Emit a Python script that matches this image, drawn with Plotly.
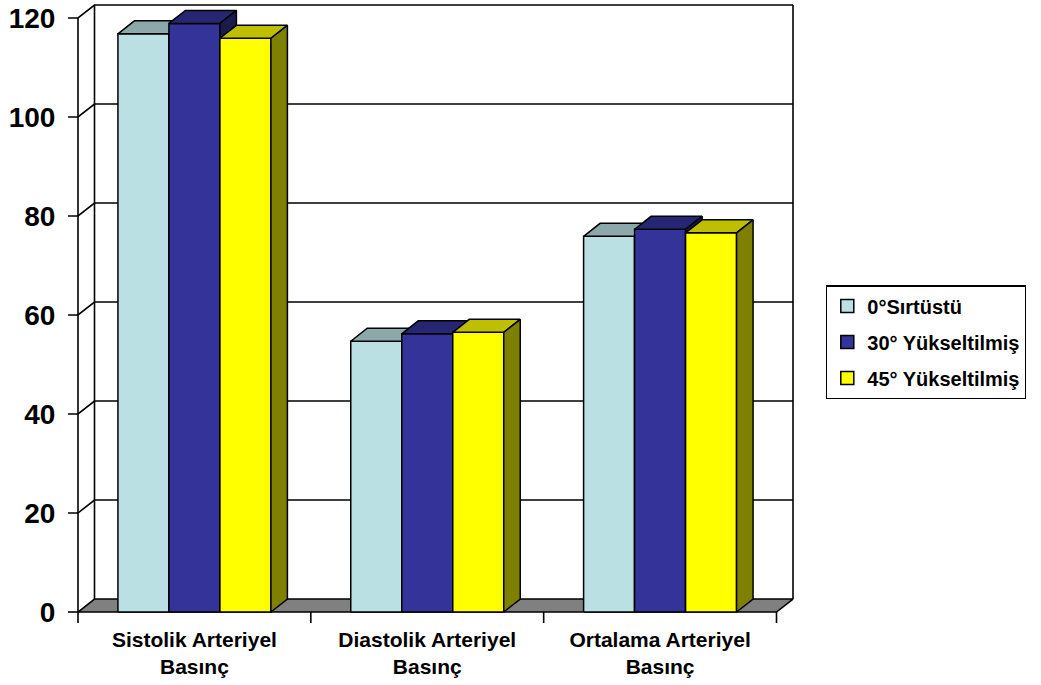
import plotly.graph_objects as go

# ---------------- data ----------------
categories = ["Sistolik Arteriyel<br>Basınç", "Diastolik Arteriyel<br>Basınç", "Ortalama Arteriyel<br>Basınç"]
series_names = ["0°Sırtüstü", "30° Yükseltilmiş", "45° Yükseltilmiş"]
values_0 = [116.8, 54.7, 75.9]
values_30 = [118.9, 56.2, 77.3]
values_45 = [115.9, 56.5, 76.6]
y_ticks = [0, 20, 40, 60, 80, 100, 120]

front_colors = ["#BBE0E3", "#333399", "#FFFF00"]
top_colors = ["#8CA8AA", "#262673", "#BFBF00"]
side_colors = ["#5E7072", "#1A1A4D", "#808000"]
floor_color = "#808080"

series_values = [values_0, values_30, values_45]

# ---------------- geometry (pixels) ----------------
W, H = 1041, 685
FX0, FX1 = 78.0, 776.5       # front x of category edges -0.5 and 2.5
FY0, FYTOP = 612.0, 17.5     # front y of value 0 and value 120
YMAX = 120
pxc = (FX1 - FX0) / len(categories)
pxu = (FY0 - FYTOP) / YMAX
DXP, DYP = 16.5, 13.0        # depth offset in px
dxu, dyu = DXP / pxc, DYP / pxu
TICKX = 10 / pxc
TICKY = 11 / pxu

L_PAD, R_PAD, B_PAD, T_PAD = 12, DXP + 4, 13, DYP + 3
xr = [-0.5 - L_PAD / pxc, len(categories) - 0.5 + R_PAD / pxc]
yr = [-B_PAD / pxu, YMAX + T_PAD / pxu]
ml = FX0 - L_PAD
mr = W - (FX1 + R_PAD)
mb = H - (FY0 + B_PAD)
mt = FYTOP - T_PAD

group_w = 0.657
bar_w = group_w / len(series_values)

x_left = -0.5
x_right = len(categories) - 0.5

fig = go.Figure()

LINE = dict(color="black", width=1.6)

# gridlines + left wall diagonals + y tick marks
gx, gy = [], []
for t in y_ticks:
    if t == 0:
        gx += [x_left - TICKX, x_left, None]
        gy += [t, t, None]
    else:
        gx += [x_left - TICKX, x_left, x_left + dxu, x_right + dxu, None]
        gy += [t, t, t + dyu, t + dyu, None]
# vertical wall edges
gx += [x_left, x_left, None, x_left + dxu, x_left + dxu, None, x_right + dxu, x_right + dxu, None]
gy += [0, YMAX, None, dyu, YMAX + dyu, None, dyu, YMAX + dyu, None]
fig.add_trace(go.Scatter(x=gx, y=gy, mode="lines", line=LINE, showlegend=False, hoverinfo="skip"))

# floor
fig.add_trace(go.Scatter(
    x=[x_left, x_right, x_right + dxu, x_left + dxu, x_left],
    y=[0, 0, dyu, dyu, 0],
    mode="lines", fill="toself", fillcolor=floor_color, line=LINE,
    showlegend=False, hoverinfo="skip"))

# category tick marks
tx, ty = [], []
for k in range(len(categories) + 1):
    xk = x_left + k
    tx += [xk, xk, None]
    ty += [0, -TICKY, None]
fig.add_trace(go.Scatter(x=tx, y=ty, mode="lines", line=LINE, showlegend=False, hoverinfo="skip"))

# bars (front, top, side faces)
for i in range(len(categories)):
    for j, vals in enumerate(series_values):
        v = vals[i]
        l = i - group_w / 2 + j * bar_w
        r = l + bar_w
        faces = [
            ([l, r, r, l, l], [0, 0, v, v, 0], front_colors[j]),
            ([l, r, r + dxu, l + dxu, l], [v, v, v + dyu, v + dyu, v], top_colors[j]),
            ([r, r + dxu, r + dxu, r, r], [0, dyu, v + dyu, v, 0], side_colors[j]),
        ]
        for fx, fy, col in faces:
            fig.add_trace(go.Scatter(x=fx, y=fy, mode="lines", fill="toself", fillcolor=col,
                                     line=dict(color="black", width=1.5),
                                     showlegend=False, hoverinfo="skip"))

# legend proxies
for j, name in enumerate(series_names):
    fig.add_trace(go.Scatter(x=[None], y=[None], mode="markers", name=name,
                             legendgroup=f"g{j}",
                             marker=dict(symbol="square", size=13, color=front_colors[j],
                                         line=dict(color="black", width=1.5))))

FONT = "Liberation Sans, Arial, sans-serif"
fig.update_layout(
    width=W, height=H,
    margin=dict(l=ml, r=mr, t=mt, b=mb, pad=0),
    paper_bgcolor="white", plot_bgcolor="white",
    font=dict(family=FONT, color="black"),
    xaxis=dict(range=xr, tickvals=list(range(len(categories))), ticktext=categories,
               showgrid=False, zeroline=False, showline=False, ticks="",
               tickfont=dict(size=21, weight=700, family=FONT)),
    yaxis=dict(range=yr, tickvals=y_ticks, showgrid=False, zeroline=False, showline=False,
               ticks="outside", ticklen=4, tickcolor="rgba(0,0,0,0)",
               tickfont=dict(size=28, weight=700, family=FONT)),
    legend=dict(x=(826 - ml) / (W - ml - mr), y=(FY0 + B_PAD - 285) / (H - mt - mb),
                xanchor="left", yanchor="top",
                bordercolor="black", borderwidth=1.3, bgcolor="white",
                font=dict(size=20, weight=700, family=FONT),
                tracegroupgap=7, itemwidth=30),
    showlegend=True,
)

fig.write_html("out.html")
